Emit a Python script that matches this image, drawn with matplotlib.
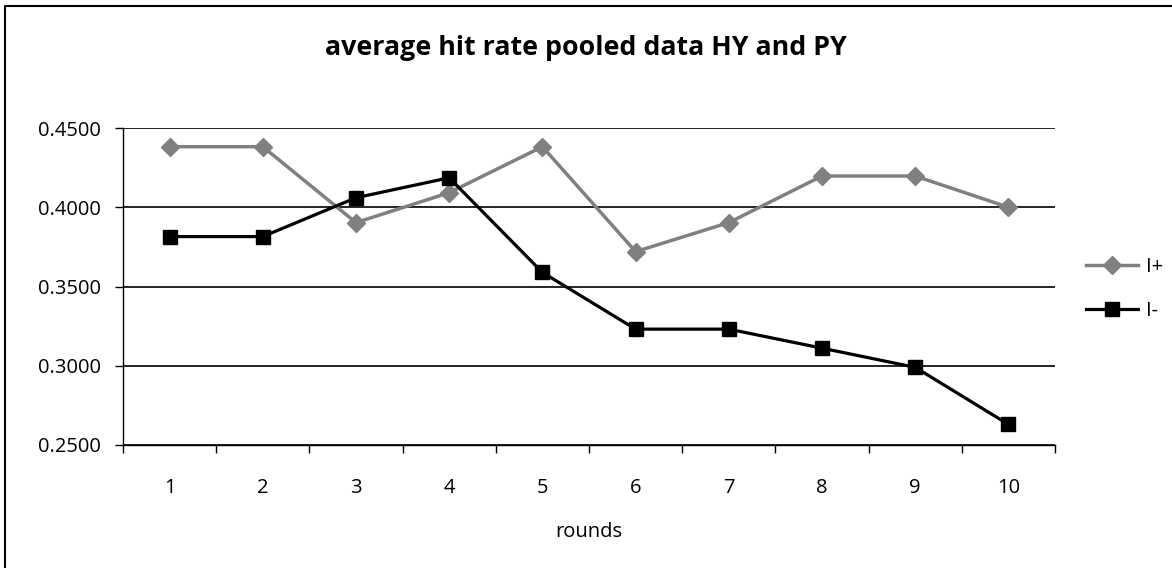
import numpy as np
import matplotlib.pyplot as plt
from matplotlib.lines import Line2D

# dados
rounds = np.arange(1, 11)
i_plus = [0.4382, 0.4382, 0.3903, 0.4092, 0.4382, 0.3720, 0.3903, 0.4197, 0.4197, 0.4000]
i_minus = [0.3815, 0.3815, 0.4060, 0.4186, 0.3589, 0.3231, 0.3231, 0.3111, 0.2990, 0.2630]
y_ticks = [0.25, 0.30, 0.35, 0.40, 0.45]

plt.rcParams['font.family'] = ['Open Sans', 'DejaVu Sans']
fs = 14.5

fig = plt.figure(figsize=(11.72, 5.68), dpi=100)
ax = fig.add_axes([123 / 1172, 1 - 445 / 568, (1055 - 123) / 1172, (445 - 128) / 568])

# borda externa (so topo e esquerda aparecem na imagem)
fig.lines.append(Line2D([5 / 1172, 5 / 1172, 1.0], [0.0, 1 - 6 / 568, 1 - 6 / 568],
                        transform=fig.transFigure, color='black', linewidth=1.5))

ax.plot(rounds, i_plus, color='#808080', linewidth=2.5, marker='D', markersize=9,
        label='I+')
ax.plot(rounds, i_minus, color='black', linewidth=2.3, marker='s', markersize=10.5,
        label='I-')

ax.set_xlim(0.5, 10.5)
ax.set_ylim(0.25, 0.45)
ax.set_yticks(y_ticks)
ax.set_yticklabels(['%.4f' % v for v in y_ticks], fontsize=fs)
ax.set_xticks(rounds)
ax.set_xticklabels([str(r) for r in rounds], fontsize=fs)
ax.set_xticks(np.arange(0.5, 11, 1), minor=True)
ax.tick_params(axis='x', which='major', length=0, pad=24)
ax.tick_params(axis='x', which='minor', length=6, width=1, direction='out')
ax.tick_params(axis='y', length=6, width=1, direction='out', pad=10)

ax.grid(axis='y', color='black', linewidth=1.2)
ax.set_axisbelow(True)
for s in ['top', 'right']:
    ax.spines[s].set_visible(False)
for s in ['left', 'bottom']:
    ax.spines[s].set_linewidth(1)

ax.set_xlabel('rounds', fontsize=fs, labelpad=17)
fig.text(0.5, 1 - 48 / 568, 'average hit rate pooled data HY and PY', ha='center', va='center',
         fontsize=19.3, fontweight='bold')

fig.legend(loc='center left', bbox_to_anchor=(1078 / 1172, 1 - 289 / 568), frameon=False,
           fontsize=fs, handlelength=2.6, handletextpad=0.4, labelspacing=1.15,
           borderaxespad=0)

fig.savefig('out.png', dpi=100)
